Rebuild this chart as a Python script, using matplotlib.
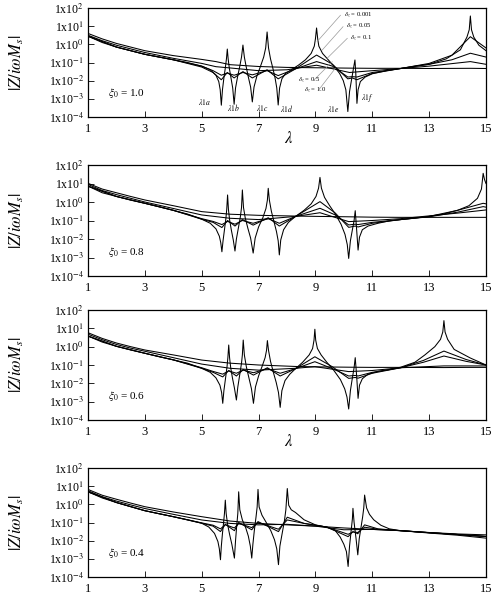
import numpy as np
import matplotlib
matplotlib.use('Agg')
import matplotlib.pyplot as plt

plt.rcParams['font.family'] = ['Liberation Serif', 'DejaVu Serif']
plt.rcParams['mathtext.fontset'] = 'stix'

# ---- data: (lambda, log10 |Z/i w Ms|) ----
xi_values = ['1.0', '0.8', '0.6', '0.4']
delta_labels = ['0.001', '0.05', '0.1', '0.5', '1.0']

# panel xi0 = 1.0
p1_d0001 = [(1.0, 0.45), (1.5, 0.1), (2.0, -0.15), (2.5, -0.35), (3.0, -0.55), (3.5, -0.7), (4.0, -0.85),
            (4.5, -1.0), (5.0, -1.2), (5.3, -1.4), (5.5, -1.7), (5.6, -2.05), (5.65, -2.5), (5.69, -3.35),
            (5.73, -2.5), (5.78, -1.85), (5.83, -1.3), (5.87, -0.8), (5.9, -0.26), (5.93, -0.8), (5.97, -1.3),
            (6.03, -1.85), (6.09, -2.4), (6.14, -3.3), (6.19, -2.4), (6.26, -1.8), (6.34, -1.2), (6.4, -0.7),
            (6.45, -0.04), (6.5, -0.7), (6.56, -1.2), (6.64, -1.8), (6.72, -2.35), (6.78, -3.17), (6.84, -2.35),
            (6.94, -1.75), (7.07, -1.2), (7.18, -0.7), (7.25, -0.2), (7.3, 0.68), (7.35, -0.2), (7.42, -0.8),
            (7.5, -1.3), (7.58, -1.85), (7.64, -2.4), (7.69, -3.34), (7.74, -2.4), (7.82, -1.9), (7.95, -1.6),
            (8.15, -1.4), (8.4, -1.15), (8.65, -0.85), (8.85, -0.5), (8.96, -0.1), (9.0, 0.3), (9.04, 0.9),
            (9.08, 0.3), (9.12, -0.1), (9.25, -0.5), (9.45, -0.85), (9.65, -1.2), (9.85, -1.6), (9.98, -2.0),
            (10.07, -2.5), (10.14, -3.7), (10.2, -2.6), (10.27, -1.95), (10.33, -1.4), (10.39, -0.86),
            (10.42, -1.6), (10.46, -3.25), (10.5, -2.5), (10.58, -2.05), (10.75, -1.8), (11.0, -1.62),
            (11.5, -1.45), (12.0, -1.33), (12.5, -1.2), (13.0, -1.1), (13.6, -0.8), (14.1, -0.3), (14.33, 0.4),
            (14.41, 0.8), (14.45, 1.56), (14.49, 0.8), (14.57, 0.4), (14.75, -0.05), (15.0, -0.35)]
p1_lam_mid = [1, 2, 3, 4, 5, 5.4, 5.69, 5.9, 6.14, 6.45, 6.78, 7.3, 7.69, 8.3, 9.04, 9.6, 10.14, 10.3, 10.46,
              11, 12, 13, 13.8, 14.45, 15]
p1_d005 = [0.45, -0.15, -0.55, -0.85, -1.25, -1.55, -1.95, -1.55, -1.85, -1.5, -1.85, -1.4, -1.9, -1.35,
           -0.59, -1.1, -1.9, -1.85, -1.95, -1.6, -1.33, -1.05, -0.6, 0.42, -0.2]
p1_d01 = [0.45, -0.15, -0.55, -0.85, -1.2, -1.45, -1.7, -1.58, -1.7, -1.55, -1.68, -1.45, -1.72, -1.35,
          -0.95, -1.2, -1.8, -1.78, -1.8, -1.55, -1.33, -1.1, -0.85, -0.49, -0.7]
p1_lam_smooth = [1, 1.5, 2, 2.5, 3, 4, 5, 5.5, 6, 7, 8, 9.04, 10.2, 11, 12, 13, 14.45, 15]
p1_d05 = [0.5, 0.2, -0.05, -0.25, -0.45, -0.77, -1.05, -1.23, -1.3, -1.45, -1.4, -1.15, -1.55, -1.45, -1.33,
          -1.2, -0.95, -1.1]
p1_d10 = [0.6, 0.3, 0.05, -0.15, -0.35, -0.62, -0.83, -0.95, -1.12, -1.22, -1.27, -1.29, -1.31, -1.32, -1.32,
          -1.33, -1.32, -1.33]

# panel xi0 = 0.8
p2_d0001 = [(1.0, 0.86), (1.5, 0.5), (2.0, 0.3), (2.5, 0.1), (3.0, -0.07), (3.5, -0.25), (4.0, -0.45),
            (4.5, -0.65), (5.0, -0.93), (5.3, -1.15), (5.5, -1.45), (5.62, -1.85), (5.67, -2.2), (5.71, -2.69),
            (5.75, -2.1), (5.8, -1.5), (5.85, -0.9), (5.88, -0.4), (5.91, 0.38), (5.94, -0.4), (5.98, -0.95),
            (6.04, -1.5), (6.11, -2.05), (6.17, -2.65), (6.22, -2.0), (6.29, -1.4), (6.36, -0.8), (6.4, -0.3),
            (6.43, 0.65), (6.47, -0.3), (6.53, -0.85), (6.62, -1.4), (6.72, -1.95), (6.81, -2.76), (6.88, -1.95),
            (7.0, -1.35), (7.15, -0.85), (7.26, -0.35), (7.31, 0.1), (7.34, 0.74), (7.38, 0.1), (7.45, -0.5),
            (7.54, -1.05), (7.63, -1.6), (7.69, -2.1), (7.73, -2.86), (7.78, -2.05), (7.88, -1.5), (8.05, -1.1),
            (8.3, -0.78), (8.6, -0.45), (8.85, -0.1), (9.02, 0.3), (9.11, 0.75), (9.16, 1.33), (9.21, 0.75),
            (9.32, 0.25), (9.5, -0.2), (9.7, -0.65), (9.9, -1.2), (10.04, -1.75), (10.12, -2.3), (10.17, -3.05),
            (10.23, -2.1), (10.3, -1.5), (10.36, -1.0), (10.4, -0.47), (10.45, -1.5), (10.5, -2.6),
            (10.55, -1.9), (10.65, -1.5), (10.85, -1.3), (11.2, -1.15), (11.6, -1.02), (12.0, -0.95),
            (12.5, -0.87), (13.0, -0.78), (13.5, -0.65), (14.0, -0.45), (14.4, -0.2), (14.7, 0.2), (14.84, 0.7),
            (14.9, 1.55), (14.95, 1.2), (15.0, 1.0)]
p2_lam_mid = [1, 2, 3, 4, 5, 5.4, 5.71, 5.91, 6.17, 6.43, 6.81, 7.34, 7.73, 8.3, 9.16, 9.7, 10.17, 10.4, 10.5,
              11, 12, 13, 14, 14.9, 15]
p2_d005 = [0.86, 0.3, -0.07, -0.45, -0.93, -1.1, -1.38, -1.0, -1.3, -0.95, -1.25, -0.85, -1.3, -0.78, 0.02,
           -0.6, -1.37, -1.3, -1.35, -1.15, -0.95, -0.78, -0.45, -0.07, -0.1]
p2_d01 = [0.86, 0.3, -0.07, -0.45, -0.9, -1.05, -1.22, -1.05, -1.2, -1.0, -1.15, -0.9, -1.15, -0.78, -0.34,
          -0.7, -1.24, -1.2, -1.22, -1.1, -0.95, -0.8, -0.55, -0.25, -0.28]
p2_lam_smooth = [1, 1.5, 2, 2.5, 3, 4, 5, 6, 7, 8.3, 9.16, 10.17, 11, 12, 13, 14, 15]
p2_d05 = [0.95, 0.62, 0.4, 0.2, 0.0, -0.35, -0.7, -0.88, -0.95, -0.78, -0.58, -1.06, -1.0, -0.9, -0.75, -0.6,
          -0.43]
p2_d10 = [1.01, 0.7, 0.5, 0.3, 0.11, -0.2, -0.52, -0.66, -0.72, -0.76, -0.78, -0.8, -0.82, -0.83, -0.83,
          -0.83, -0.83]

# panel xi0 = 0.6
p3_d0001 = [(1.0, 0.58), (1.5, 0.25), (2.0, 0.02), (2.5, -0.18), (3.0, -0.36), (3.5, -0.55), (4.0, -0.72),
            (4.5, -0.9), (5.0, -1.18), (5.3, -1.4), (5.5, -1.7), (5.64, -2.1), (5.7, -2.5), (5.74, -3.09),
            (5.78, -2.4), (5.84, -1.7), (5.89, -1.1), (5.92, -0.6), (5.95, 0.09), (5.98, -0.6), (6.02, -1.15),
            (6.08, -1.7), (6.15, -2.25), (6.22, -2.91), (6.27, -2.2), (6.34, -1.5), (6.4, -0.9), (6.43, -0.45),
            (6.46, 0.36), (6.5, -0.45), (6.57, -1.1), (6.66, -1.7), (6.75, -2.3), (6.82, -3.09), (6.89, -2.2),
            (7.0, -1.6), (7.13, -1.05), (7.23, -0.6), (7.28, -0.2), (7.31, 0.33), (7.35, -0.2), (7.42, -0.8),
            (7.52, -1.4), (7.62, -1.95), (7.7, -2.5), (7.76, -3.31), (7.82, -2.4), (7.93, -1.85), (8.1, -1.5),
            (8.3, -1.2), (8.55, -0.85), (8.78, -0.45), (8.9, -0.1), (8.95, 0.35), (8.98, 0.95), (9.01, 0.35),
            (9.07, -0.1), (9.2, -0.45), (9.4, -0.85), (9.65, -1.3), (9.88, -1.8), (10.03, -2.3), (10.11, -2.75),
            (10.17, -3.4), (10.23, -2.4), (10.3, -1.7), (10.36, -1.15), (10.4, -0.6), (10.45, -1.6),
            (10.5, -2.82), (10.55, -2.1), (10.65, -1.75), (10.85, -1.5), (11.2, -1.35), (11.6, -1.25),
            (12.0, -1.12), (12.5, -0.85), (12.85, -0.45), (13.2, 0.0), (13.4, 0.4), (13.48, 0.8), (13.52, 1.42),
            (13.56, 0.8), (13.65, 0.4), (13.88, -0.15), (14.45, -0.62), (15.0, -1.0)]
p3_lam_mid = [1, 2, 3, 4, 5, 5.4, 5.74, 5.95, 6.22, 6.46, 6.82, 7.31, 7.76, 8.3, 8.98, 9.6, 10.17, 10.4, 10.5,
              11, 12, 12.8, 13.52, 14.3, 15]
p3_d005 = [0.58, 0.02, -0.36, -0.72, -1.18, -1.4, -1.65, -1.3, -1.6, -1.25, -1.55, -1.15, -1.6, -1.2, -0.55,
           -1.1, -1.73, -1.68, -1.72, -1.45, -1.15, -0.75, -0.24, -0.7, -1.0]
p3_d01 = [0.58, 0.02, -0.36, -0.72, -1.15, -1.35, -1.5, -1.32, -1.45, -1.28, -1.42, -1.2, -1.45, -1.2, -0.82,
          -1.2, -1.6, -1.57, -1.6, -1.4, -1.15, -0.85, -0.51, -0.8, -1.0]
p3_lam_smooth = [1, 1.5, 2, 2.5, 3, 4, 5, 6, 7, 8.3, 8.98, 10.17, 11, 12, 13.52, 14.3, 15]
p3_d05 = [0.68, 0.38, 0.12, -0.08, -0.25, -0.6, -0.95, -1.18, -1.28, -1.18, -1.09, -1.36, -1.3, -1.15, -1.05,
          -1.05, -1.05]
p3_d10 = [0.76, 0.45, 0.2, 0.0, -0.18, -0.45, -0.73, -0.9, -1.0, -1.08, -1.1, -1.12, -1.13, -1.13, -1.14,
          -1.13, -1.13]

# panel xi0 = 0.4
p4_d0001 = [(1.0, 0.69), (1.5, 0.35), (2.0, 0.1), (2.5, -0.13), (3.0, -0.35), (3.5, -0.52), (4.0, -0.68),
            (4.5, -0.85), (5.0, -1.04), (5.25, -1.25), (5.45, -1.6), (5.57, -2.05), (5.62, -2.45), (5.66, -3.05),
            (5.69, -2.3), (5.73, -1.6), (5.77, -1.0), (5.8, -0.5), (5.83, 0.23), (5.86, -0.5), (5.91, -1.1),
            (5.98, -1.65), (6.06, -2.2), (6.15, -2.96), (6.19, -2.0), (6.23, -1.2), (6.27, -0.5), (6.3, 0.69),
            (6.34, -0.3), (6.43, -0.86), (6.55, -1.3), (6.64, -1.75), (6.71, -2.3), (6.76, -2.96), (6.8, -2.2),
            (6.85, -1.45), (6.91, -0.7), (6.95, -0.15), (6.98, 0.82), (7.02, -0.15), (7.12, -0.6), (7.27, -1.0),
            (7.43, -1.45), (7.56, -1.95), (7.64, -2.45), (7.7, -3.32), (7.75, -2.3), (7.83, -1.6), (7.91, -0.9),
            (7.96, -0.3), (8.01, 0.87), (8.06, -0.05), (8.15, -0.3), (8.3, -0.45), (8.6, -0.85), (9.0, -1.13),
            (9.4, -1.26), (9.7, -1.45), (9.87, -1.8), (10.0, -2.2), (10.09, -2.6), (10.15, -3.42), (10.2, -2.3),
            (10.26, -1.4), (10.3, -0.8), (10.32, -0.22), (10.36, -1.0), (10.43, -1.9), (10.49, -2.78),
            (10.54, -1.9), (10.6, -1.3), (10.66, -0.7), (10.7, -0.2), (10.73, 0.51), (10.8, -0.2), (10.9, -0.55),
            (11.05, -0.85), (11.3, -1.15), (11.6, -1.35), (12.0, -1.45), (13.0, -1.56), (14.0, -1.66),
            (15.0, -1.77)]
p4_lam_mid = [1, 2, 3, 4, 5, 5.4, 5.66, 5.83, 6.15, 6.3, 6.76, 6.98, 7.7, 8.01, 8.6, 9.4, 10.15, 10.32, 10.49,
              10.73, 11.2, 12, 13, 14, 15]
p4_d005 = [0.69, 0.1, -0.35, -0.68, -1.04, -1.2, -1.5, -1.1, -1.45, -1.0, -1.4, -0.95, -1.5, -0.71, -1.05,
           -1.25, -1.78, -1.5, -1.62, -1.13, -1.35, -1.45, -1.56, -1.66, -1.77]
p4_d01 = [0.69, 0.1, -0.35, -0.68, -1.02, -1.15, -1.35, -1.12, -1.3, -1.05, -1.28, -1.0, -1.37, -0.86, -1.05,
          -1.25, -1.65, -1.52, -1.55, -1.26, -1.37, -1.45, -1.56, -1.66, -1.77]
p4_lam_smooth = [1, 1.5, 2, 2.5, 3, 4, 5, 6, 7, 8, 9, 10, 11, 12, 13, 14, 15]
p4_d05 = [0.75, 0.42, 0.18, -0.03, -0.23, -0.55, -0.86, -1.05, -1.13, -1.1, -1.2, -1.4, -1.38, -1.45, -1.58,
          -1.7, -1.86]
p4_d10 = [0.82, 0.5, 0.28, 0.07, -0.13, -0.42, -0.68, -0.92, -1.05, -1.13, -1.2, -1.3, -1.38, -1.45, -1.55,
          -1.63, -1.68]

panels = [
    (p1_d0001, p1_lam_mid, p1_d005, p1_d01, p1_lam_smooth, p1_d05, p1_d10),
    (p2_d0001, p2_lam_mid, p2_d005, p2_d01, p2_lam_smooth, p2_d05, p2_d10),
    (p3_d0001, p3_lam_mid, p3_d005, p3_d01, p3_lam_smooth, p3_d05, p3_d10),
    (p4_d0001, p4_lam_mid, p4_d005, p4_d01, p4_lam_smooth, p4_d05, p4_d10),
]

# resonance labels of panel 1 (lambda, log10 position)
res_names = [r'$\lambda 1a$', r'$\lambda 1b$', r'$\lambda 1c$', r'$\lambda 1d$', r'$\lambda 1e$', r'$\lambda 1f$']
res_pos = [(5.1, -3.15), (6.11, -3.49), (7.14, -3.49), (7.98, -3.52), (9.62, -3.56), (10.81, -2.97)]

# ---- figure ----
fig = plt.figure(figsize=(4.92, 5.94), dpi=100)
# axes boxes in pixels: left/right, top/bottom
left_px, right_px = 88, 486
boxes = [(8, 117), (165, 276), (310, 420), (468, 577)]

ytick_vals = [1e-4, 1e-3, 1e-2, 1e-1, 1e0, 1e1, 1e2]
ytick_txt = [r'1x10$^{-4}$', r'1x10$^{-3}$', r'1x10$^{-2}$', r'1x10$^{-1}$',
             r'1x10$^{0}$', r'1x10$^{1}$', r'1x10$^{2}$']

for i, (box, data) in enumerate(zip(boxes, panels)):
    top, bot = box
    ax = fig.add_axes([left_px / 492, 1 - bot / 594, (right_px - left_px) / 492, (bot - top) / 594])
    sharp, lam_mid, d005, d01, lam_s, d05, d10 = data
    lw = 0.75
    ax.plot(lam_s, 10 ** np.array(d10), color='black', lw=lw)
    ax.plot(lam_s, 10 ** np.array(d05), color='black', lw=lw)
    ax.plot(lam_mid, 10 ** np.array(d01), color='black', lw=lw)
    ax.plot(lam_mid, 10 ** np.array(d005), color='black', lw=lw)
    sx, sy = zip(*sharp)
    ax.plot(sx, 10 ** np.array(sy), color='black', lw=lw)

    ax.set_yscale('log')
    ax.set_xlim(1, 15)
    ax.set_ylim(1e-4, 1e2)
    ax.set_yticks(ytick_vals)
    ax.set_yticklabels(ytick_txt, fontsize=8.5)
    ax.set_xticks(range(1, 16, 2))
    ax.set_xticklabels([str(v) for v in range(1, 16, 2)], fontsize=9)
    ax.tick_params(axis='both', which='both', direction='in', top=False, right=False)
    ax.tick_params(axis='both', which='major', length=4, width=0.6)
    ax.tick_params(axis='y', which='minor', length=2, width=0.4)
    ax.tick_params(axis='x', which='major', pad=4)
    ax.tick_params(axis='y', which='major', pad=3)
    for s in ax.spines.values():
        s.set_linewidth(0.9)

    ax.set_ylabel(r'$|Z/i\omega M_s|$', fontsize=12)
    ax.yaxis.set_label_coords(-0.155, 0.5)
    ax.text(0.05, 0.22, r'$\xi_0$ = ' + xi_values[i], transform=ax.transAxes, fontsize=8,
            ha='left', va='center')

    if i in (0, 2):
        ax.text(0.505, -0.2, r'$\lambda$', transform=ax.transAxes, fontsize=12,
                ha='center', va='center')

    if i == 0:
        for name, (lx, ly) in zip(res_names, res_pos):
            ax.text(lx, 10 ** ly, name, fontsize=5.5, ha='center', va='center')
        # damping labels with leader lines
        lbl_pos = [(10.0, 1.6), (10.08, 0.97), (10.22, 0.33), (8.4, -1.96), (8.6, -2.55)]
        line_from = [(9.88, 1.6), (9.97, 0.97), (10.12, 0.33), (8.95, -1.96), (9.12, -2.5)]
        line_to = [(9.06, 0.15), (9.24, -0.31), (9.41, -0.77), (9.59, -0.96), (9.7, -1.32)]
        for d, (tx, ty), (fx, fy), (ex, ey) in zip(delta_labels, lbl_pos, line_from, line_to):
            ax.text(tx, 10 ** ty, r'$\delta_z$ = ' + d, fontsize=4.8, ha='left', va='center')
            ax.plot([fx, ex], [10 ** fy, 10 ** ey], color='#999999', lw=0.5)

fig.savefig('out.png', dpi=100)
